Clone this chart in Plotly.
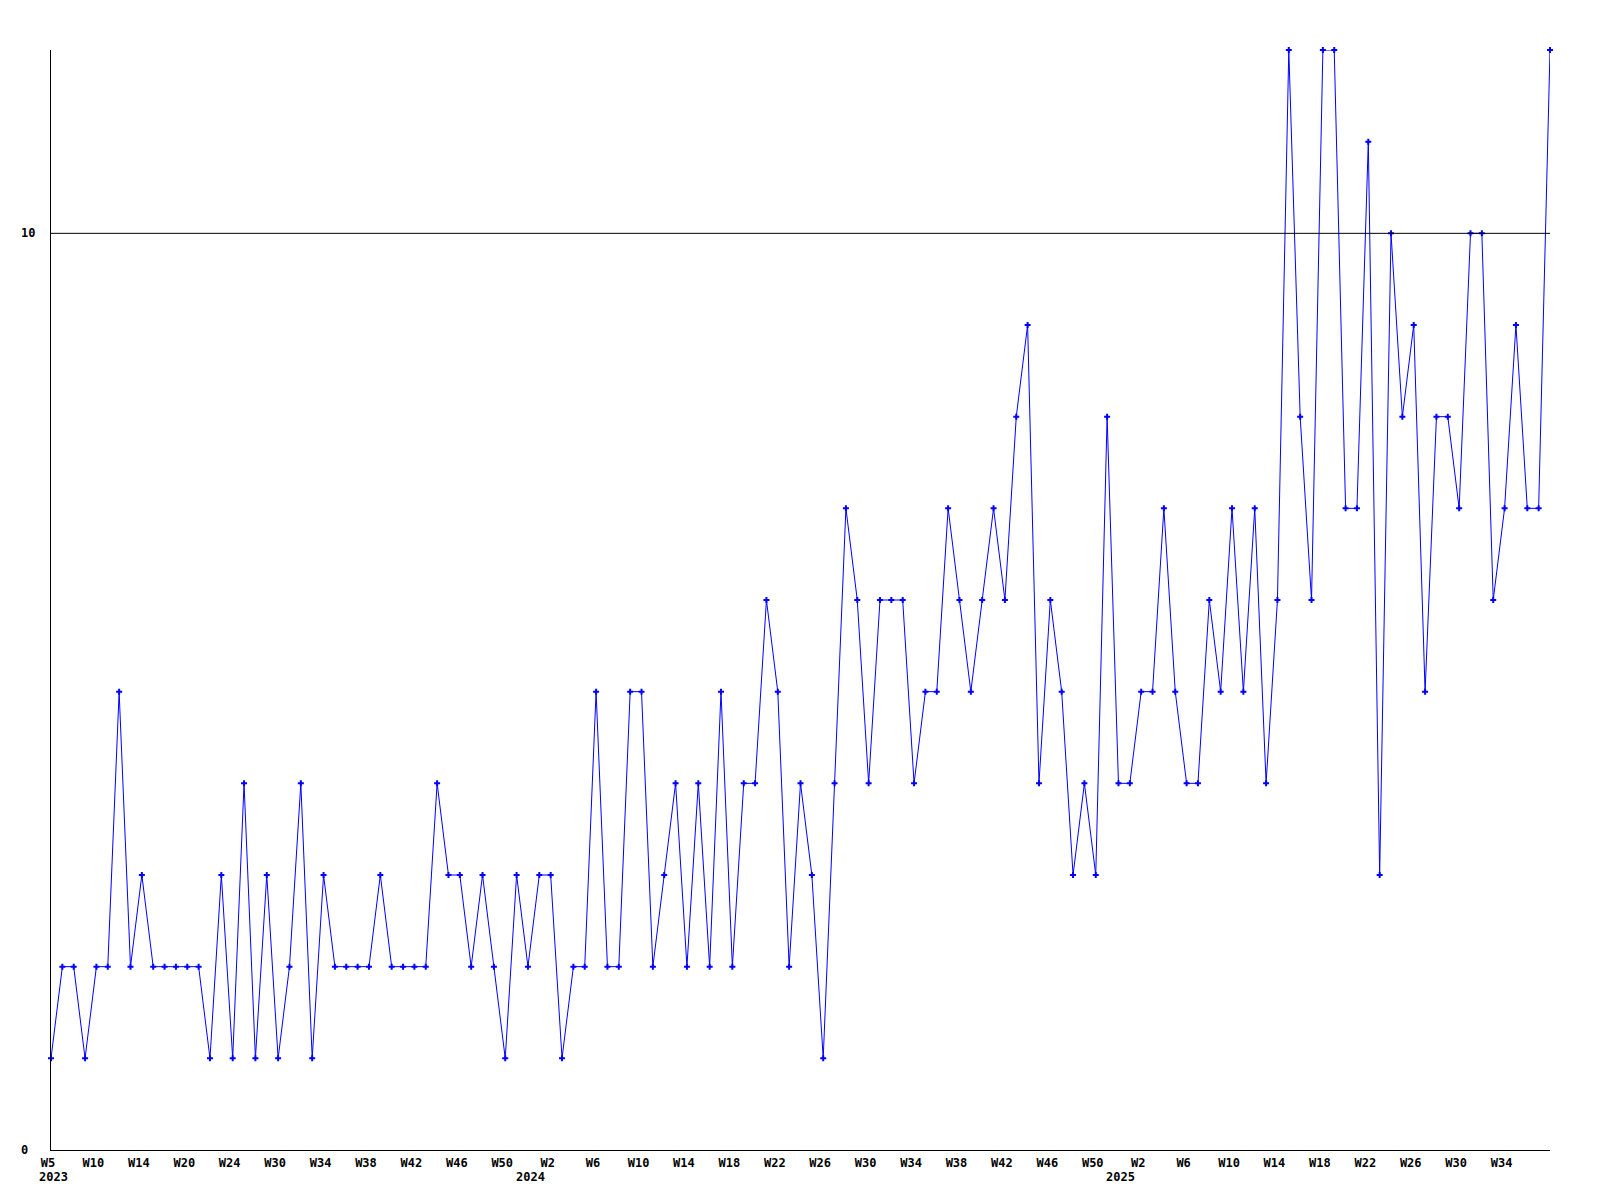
import plotly.graph_objects as go

# Weekly values (one per week, starting 2023 W5)
values = [
    1, 2, 2, 1, 2, 2, 5, 2, 3, 2, 2, 2, 2, 2, 1, 3, 1, 4, 1, 3,
    1, 2, 4, 1, 3, 2, 2, 2, 2, 3, 2, 2, 2, 2, 4, 3, 3, 2, 3, 2,
    1, 3, 2, 3, 3, 1, 2, 2, 5, 2, 2, 5, 5, 2, 3, 4, 2, 4, 2, 5,
    2, 4, 4, 6, 5, 2, 4, 3, 1, 4, 7, 6, 4, 6, 6, 6, 4, 5, 5, 7,
    6, 5, 6, 7, 6, 8, 9, 4, 6, 5, 3, 4, 3, 8, 4, 4, 5, 5, 7, 5,
    4, 4, 6, 5, 7, 5, 7, 4, 6, 12, 8, 6, 12, 12, 7, 7, 11, 3, 10, 8,
    9, 5, 8, 8, 7, 10, 10, 6, 7, 9, 7, 7, 12,
]

week_labels = [
    "W5", "W10", "W14", "W20", "W24", "W30", "W34", "W38", "W42", "W46", "W50",
    "W2", "W6", "W10", "W14", "W18", "W22", "W26", "W30", "W34", "W38", "W42", "W46", "W50",
    "W2", "W6", "W10", "W14", "W18", "W22", "W26", "W30", "W34",
]
year_labels = ["2023", "2024", "2025"]
year_label_pos = [0.22, 42.2, 94.2]

y_tick_vals = [0, 10]
y_tick_text = ["0", "10"]

x = list(range(len(values)))
tick_every = 4
tickvals = [i * tick_every for i in range(len(week_labels))]

FONT = dict(family="DejaVu Sans Mono", size=12, color="black", weight="bold")

fig = go.Figure()
fig.add_trace(go.Scatter(
    x=x, y=values, mode="lines+markers",
    line=dict(color="#0000FF", width=1),
    marker=dict(symbol="cross", size=5, color="#0000FF", line=dict(width=0)),
    cliponaxis=False, showlegend=False, hoverinfo="skip",
))

# Reference line at 10
fig.add_shape(type="line", xref="x", yref="y", x0=0, x1=len(values) - 1,
              y0=10, y1=10, line=dict(color="black", width=1))

annotations = []
for v, t in zip(y_tick_vals, y_tick_text):
    annotations.append(dict(x=0, xref="paper", y=v, yref="y", text=t,
                            showarrow=False, xanchor="left", yanchor="middle",
                            xshift=-32, font=FONT))
for p, t in zip(year_label_pos, year_labels):
    annotations.append(dict(x=p, xref="x", y=0, yref="paper", text=t,
                            showarrow=False, xanchor="center", yanchor="middle",
                            yshift=-27, font=FONT))

# Page body has an 8px margin, so the figure is sized to fit the 1600x1200 window
fig.update_layout(
    width=1592, height=1192,
    margin=dict(l=43, r=50, t=42, b=50),
    paper_bgcolor="white", plot_bgcolor="white",
    annotations=annotations,
)
fig.update_xaxes(
    range=[0, len(values) - 1], showgrid=False, zeroline=False,
    showline=True, linecolor="black", linewidth=1,
    tickmode="array", tickvals=tickvals, ticktext=week_labels,
    ticks="", tickfont=FONT, ticklabelshift=-3, ticklabelstandoff=2,
)
fig.update_yaxes(
    range=[0, 12], showgrid=False, zeroline=False,
    showline=True, linecolor="black", linewidth=1,
    showticklabels=False, ticks="",
)

fig.write_html("out.html")
